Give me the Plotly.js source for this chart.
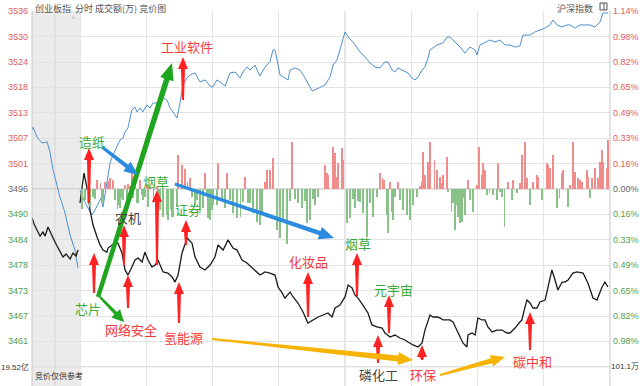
<!DOCTYPE html>
<html><head><meta charset="utf-8">
<script src="https://cdn.plot.ly/plotly-3.0.1.min.js"></script>
<style>html,body{margin:0;padding:0;background:#fff}#chart{width:640px;height:386px}</style>
</head><body><div id="chart"></div>
<script>
// ---- data (percent change vs previous close; minutes from 9:30, negative = call auction) ----
const blueAucT = [-21.7,-21.3,-19.5,-17.2,-14.9,-13.6,-12.2,-10.4,-9.1,-8.2,-6.8,-4.5,-2.3,-0.9];
const blueAucP = [0.380,0.399,0.335,0.296,0.303,0.238,0.122,0.013,-0.051,-0.090,-0.154,-0.296,-0.393,-0.509];
const blueT = [0,1.8,3.6,5.4,6.8,8.2,9.5,10.4,11.8,13.6,14.9,16.8,18.1,19.5,20.4,21.7,22.6,23.5,24.9,25.8,27.2,28.5,30.3,31.7,33.1,34.9,36.2,37.6,39.4,40.8,42.1,43.9,45.3,46.6,48.5,49.8,52.1,54.3,56.6,58.9,60.2,62.0,63.4,65.7,67.9,70.2,72.5,73.8,75.6,77.0,79.2,81.5,83.8,86.0,87.4,88.3,90.6,92.8,94.2,95.1,97.4,99.6,101.9,104.1,105.1,107.3,110.9,113.2,114.6,116.4,117.7,120.0,121.4,123.6,126.8,129.1,131.3,133.6,135.8,138.1,139.5,141.3,142.6,144.0,145.8,148.5,150.3,151.7,153.1,154.9,156.2,157.6,158.5,161.7,164.4,166.2,167.5,169.8,172.1,174.3,176.6,178.9,179.8,181.1,183.4,185.6,187.9,190.2,192.4,194.7,197.0,199.2,200.6,203.8,206.0,208.3,210.6,212.8,214.2,216.0,218.3,220.5,221.9,224.1,226.4,228.7,230.9,233.2,235.5,236.8,239.1];
const blueP = [-0.006,-0.071,-0.122,-0.167,-0.135,-0.090,-0.058,-0.116,0.006,0.167,0.219,0.270,0.315,0.328,0.367,0.393,0.463,0.509,0.528,0.496,0.521,0.496,0.541,0.521,0.554,0.554,0.560,0.586,0.573,0.521,0.496,0.457,0.554,0.669,0.715,0.734,0.747,0.689,0.702,0.663,0.657,0.702,0.689,0.663,0.747,0.753,0.715,0.753,0.785,0.766,0.798,0.727,0.785,0.818,0.895,0.895,0.734,0.715,0.702,0.766,0.779,0.766,0.715,0.657,0.631,0.644,0.669,0.721,0.798,0.830,0.895,1.011,0.978,0.946,0.882,0.850,0.811,0.785,0.779,0.818,0.818,0.766,0.753,0.779,0.766,0.747,0.715,0.702,0.721,0.766,0.785,0.843,0.895,0.927,0.940,0.978,0.978,0.946,0.914,0.875,0.914,0.895,0.863,0.927,0.946,0.959,0.946,0.959,0.927,0.927,0.914,0.921,0.991,0.991,1.011,1.023,1.036,1.056,1.088,1.056,1.043,1.056,1.056,1.036,1.056,1.056,1.056,1.043,1.075,1.133,1.133];
const blackAucT = [-21.7,-20.8,-19.5,-18.1,-16.8,-15.8,-14.5,-13.6,-12.2,-10.4,-9.1,-7.7,-6.3,-4.5,-3.2,-1.8,-0.9];
const blackAucP = [-0.187,-0.225,-0.264,-0.303,-0.277,-0.303,-0.245,-0.277,-0.315,-0.367,-0.406,-0.438,-0.418,-0.451,-0.412,-0.431,-0.393];
const blackT = [0,0.9,1.8,2.7,3.6,4.5,5.9,7.7,9.1,10.4,12.2,12.7,14.5,15.8,17.2,19.0,20.4,21.7,23.5,24.9,26.3,28.1,29.4,30.8,32.6,34.0,35.3,37.6,39.8,41.7,43.0,44.4,46.2,48.5,50.7,52.1,54.3,56.6,58.9,61.1,62.5,64.8,67.0,69.3,71.1,73.4,75.6,78.3,81.5,83.8,86.0,88.3,89.7,91.5,92.8,95.1,96.5,98.7,101.0,103.2,105.5,107.8,110.0,112.3,114.1,115.5,117.7,120.0,121.4,123.2,124.5,125.9,128.1,130.4,132.2,134.5,136.8,138.1,140.4,142.6,144.9,147.2,148.5,150.8,153.1,154.9,156.2,157.6,158.5,159.8,161.7,163.0,164.4,166.2,167.5,168.9,170.7,172.1,173.4,175.2,175.7,177.5,178.9,180.2,182.0,183.4,184.7,186.6,188.8,191.1,193.3,194.7,197.0,199.2,200.1,201.5,202.4,203.8,205.1,206.9,208.3,210.6,211.9,213.7,215.1,216.4,218.3,219.6,221.0,223.2,225.0,227.8,230.0,232.3,234.1,236.4,237.7,239.1];
const blackP = [-0.090,0.026,0.103,0.039,-0.026,-0.135,-0.232,-0.309,-0.360,-0.393,-0.406,-0.380,-0.360,-0.348,-0.348,-0.412,-0.521,-0.554,-0.502,-0.457,-0.444,-0.470,-0.406,-0.457,-0.502,-0.489,-0.457,-0.534,-0.541,-0.566,-0.599,-0.554,-0.412,-0.315,-0.348,-0.438,-0.502,-0.521,-0.489,-0.438,-0.360,-0.393,-0.328,-0.380,-0.393,-0.457,-0.476,-0.509,-0.554,-0.534,-0.541,-0.554,-0.631,-0.669,-0.702,-0.663,-0.695,-0.734,-0.792,-0.863,-0.843,-0.824,-0.811,-0.798,-0.824,-0.766,-0.747,-0.695,-0.618,-0.637,-0.682,-0.702,-0.747,-0.798,-0.875,-0.888,-0.895,-0.927,-0.953,-0.940,-0.959,-0.972,-0.985,-1.004,-1.017,-0.991,-0.908,-0.843,-0.811,-0.824,-0.824,-0.830,-0.843,-0.843,-0.843,-0.856,-0.908,-0.953,-0.991,-1.017,-0.940,-0.927,-0.940,-0.830,-0.843,-0.843,-0.888,-0.920,-0.908,-0.908,-0.927,-0.927,-0.895,-0.856,-0.843,-0.760,-0.715,-0.734,-0.766,-0.766,-0.727,-0.715,-0.631,-0.521,-0.586,-0.650,-0.599,-0.599,-0.586,-0.541,-0.534,-0.541,-0.605,-0.702,-0.715,-0.631,-0.599,-0.631];
const barT = [0.9,2.3,3.6,4.5,5.9,6.8,7.7,9.1,10.0,10.4,11.3,12.7,13.6,14.9,15.8,16.8,17.2,18.1,19.0,19.5,20.4,21.3,21.7,22.6,23.5,24.0,24.9,25.8,26.3,27.2,28.1,28.5,29.4,30.3,30.8,31.7,33.1,34.9,35.3,36.2,37.6,39.4,39.8,40.8,41.7,42.1,43.9,44.4,46.2,47.5,48.5,49.8,50.7,52.1,53.0,54.3,55.7,56.6,57.5,58.0,58.9,59.8,60.2,62.0,62.5,64.3,65.7,66.6,67.9,69.3,71.1,72.5,73.8,74.7,76.1,77.0,78.3,80.1,81.5,82.4,83.8,84.7,86.0,87.4,89.2,90.6,91.9,93.7,95.1,96.0,97.4,98.7,100.5,101.9,102.8,104.1,105.5,106.4,107.8,110.9,111.8,112.3,114.6,115.5,116.4,116.8,118.6,119.1,120.9,122.3,123.6,124.5,125.9,126.8,128.1,130.0,131.3,132.7,134.5,135.8,136.8,137.7,139.0,139.5,140.4,141.3,141.7,142.6,144.0,144.9,146.3,148.1,149.4,150.8,152.6,154.0,154.9,155.3,156.2,157.6,158.5,160.7,161.7,163.0,163.9,164.4,166.2,166.6,168.4,168.9,169.8,170.7,171.2,172.1,173.0,173.4,174.3,175.7,176.6,178.0,179.8,180.7,182.0,182.5,183.4,184.3,185.6,187.0,188.8,189.3,190.2,191.1,192.4,193.8,195.6,196.1,197.9,199.2,200.1,201.5,202.4,203.8,205.1,206.9,207.4,209.2,211.5,211.9,212.8,214.2,216.0,217.3,218.3,218.7,221.0,221.9,223.2,224.1,225.5,226.4,227.3,229.6,230.0,230.9,231.8,233.2,234.6,235.5,236.4,236.8,238.6,239.1];
const barH = [-20,-11,-14,-18,-8,-10,9,6,-13,-14,7,8,11,9,-11,-20,-16,-19,-9,-11,4,-14,5,3,16,-9,12,-14,-14,9,-6,-11,-8,4,-18,2,-14,2,-19,-21,-28,-26,-31,-21,-28,-28,-18,34,24,20,7,11,-8,-16,-11,-22,-19,16,-8,-29,-31,-21,-16,-16,26,-11,-19,16,-11,-24,-29,-28,-13,12,-14,-14,-24,-33,-36,-24,7,19,19,31,-41,-49,-31,-55,-12,47,-10,-14,-19,-12,-34,-31,-10,-16,-8,24,16,14,42,36,12,26,41,29,-34,-29,-10,-19,-12,-13,-24,-48,-14,-28,-8,16,11,9,-26,-44,7,-23,-31,-8,7,-11,-21,-26,-31,-16,-8,3,7,37,14,27,47,29,19,12,6,14,32,-3,-23,-14,-41,-16,-28,-34,-33,-9,-26,9,-11,-23,4,42,14,26,19,-6,-4,-6,-11,26,-3,-8,-38,7,-11,9,-4,6,34,47,11,-16,7,14,12,-11,26,24,21,34,-19,-9,16,19,-18,4,47,17,11,9,7,19,12,-9,11,21,11,27,39,27,21,49];
const leftLabels = ['3536','3530','3524','3518','3513','3507','3501','3496','3490','3484','3478','3473','3467','3461','19.52亿'];
const rightLabels = ['1.14%','0.98%','0.82%','0.65%','0.49%','0.33%','0.16%','0.00%','0.16%','0.33%','0.49%','0.65%','0.82%','0.98%','101.1万'];
const timeGrid = [0,30,60,90,120,150,180,210,240];
const STEP = 0.1635;

// ---- helpers for decorations (pixel -> paper) ----
const PL=32, PW=578, PB=386, PH=375;
const PX = x => (x-PL)/PW, PY = y => (PB-y)/PH;
function arrowPath(x0,y0,x1,y1,w0,w1,hw,hl){
  const dx=x1-x0, dy=y1-y0, len=Math.hypot(dx,dy);
  const ux=dx/len, uy=dy/len, nx=-uy, ny=ux;
  const bx=x1-ux*hl, by=y1-uy*hl;
  const pts=[[x0+nx*w0,y0+ny*w0],[bx+nx*w1,by+ny*w1],[bx+nx*hw,by+ny*hw],[x1,y1],[bx-nx*hw,by-ny*hw],[bx-nx*w1,by-ny*w1],[x0-nx*w0,y0-ny*w0]];
  return 'M'+pts.map(p=>PX(p[0]).toFixed(5)+','+PY(p[1]).toFixed(5)).join(' L')+' Z';
}
const RED='#ff2222', GREEN='#1fa51f', BLUE='#2a8be0', YEL='#f6b400';
const arrows = [
  ...[[183,100,57],[89,203,148],[157,265,190],[124,265,225],[186,245,220],[94,293,253],[128,308,275],[179,323,282],[308,317,272],[357,296,253],[389,333,295],[378,363,335],[422,360,345],[530,350,312]]
    .map(a=>({p:arrowPath(a[0],a[1],a[0],a[2],1,2,5,12),c:RED})),
  {p:arrowPath(98,297,172,63,2.2,2.8,7,17),c:GREEN},
  {p:arrowPath(100,297,124,322,1.2,1.8,6,12),c:GREEN},
  {p:arrowPath(102,147,138,175,1.5,2,6,14),c:BLUE},
  {p:arrowPath(175,184,334,238,1.6,2.2,6.5,15),c:BLUE},
  {p:arrowPath(212,339,413,360,1,3,6.5,15),c:YEL},
  {p:arrowPath(440,375,505,357,1,2.6,6,14),c:YEL}
];
const TR='#f43b3b', TG='#3aab3a', TD='#444';
const tags = [['工业软件',187,47,TR],['造纸',92,141,TG],['烟草',156,181,TG],['农机',128,217,TD],['证券',188,210,TG],['芯片',88,308,TG],['网络安全',131,329,TR],['氢能源',183,337,TR],['化妆品',308,261,TR],['烟草',358,244,TG],['元宇宙',393,289,TG],['磷化工',378,374,TD],['环保',423,374,TR],['碳中和',532,361,TR]];

const NUMF = 'Liberation Sans, Arial, Noto Sans CJK SC, sans-serif';
const CJK = 'Noto Sans CJK SC, sans-serif';
const gridVals = leftLabels.map((_,i)=>(7-i)*STEP);

const traces = [
  {type:'bar', x:barT, y:barH, width:0.55, yaxis:'y3', marker:{color:barH.map(v=>v>0?'#f08c8c':'#88c288'), line:{width:0}}, hoverinfo:'skip'},
  {type:'scatter', mode:'lines', x:blueAucT, y:blueAucP, line:{color:'#4f8fd2', width:1}},
  {type:'scatter', mode:'lines', x:blueT, y:blueP, line:{color:'#4f8fd2', width:1}},
  {type:'scatter', mode:'lines', x:blackAucT, y:blackAucP, line:{color:'#1a1a1a', width:1.3}},
  {type:'scatter', mode:'lines', x:blackT, y:blackP, line:{color:'#1a1a1a', width:1.3}}
];

const annotations = [];
leftLabels.forEach((t,i)=>{
  const col = i<7?'#e25c5c':(i===7?'#666':(i<14?'#4f9f4f':'#333'));
  annotations.push({xref:'paper',yref:'y',x:PX(i===14?31:30),y:gridVals[i],text:t,showarrow:false,xanchor:'right',yanchor:'middle',font:{family:NUMF,size:i===14?8:9,color:col}});
});
rightLabels.forEach((t,i)=>{
  const col = i<7?'#e25c5c':(i===7?'#666':(i<14?'#4f9f4f':'#333'));
  annotations.push({xref:'paper',yref:'y',x:PX(i===14?609:611),y:gridVals[i],text:t,showarrow:false,xanchor:'left',yanchor:'middle',font:{family:NUMF,size:i===14?8:9,color:col}});
});
tags.forEach(t=>annotations.push({xref:'paper',yref:'paper',x:PX(t[1]),y:PY(t[2]),text:t[0],showarrow:false,xanchor:'center',yanchor:'middle',font:{family:CJK,size:13,color:t[3]}}));
annotations.push({xref:'paper',yref:'paper',x:PX(33),y:PY(0),text:'创业板指&nbsp;&nbsp;分时 成交额(万) 竞价图',showarrow:false,xanchor:'left',yanchor:'top',font:{family:CJK,size:9,color:'#555'}});
annotations.push({xref:'paper',yref:'paper',x:PX(595),y:PY(0),text:'沪深指数',showarrow:false,xanchor:'right',yanchor:'top',font:{family:CJK,size:9,color:'#555'}});
annotations.push({xref:'paper',yref:'paper',x:PX(33),y:PY(375),text:'竞价仅供参考',showarrow:false,xanchor:'left',yanchor:'middle',font:{family:CJK,size:8,color:'#333'}});
annotations.push({xref:'paper',yref:'paper',x:PX(73),y:PY(17),text:'×',showarrow:false,xanchor:'center',yanchor:'middle',font:{family:NUMF,size:7,color:'#bbb'}});

const shapes = [
  {type:'rect',xref:'x',yref:'paper',x0:-21.74,x1:0,y0:0,y1:1,fillcolor:'rgba(0,0,0,0.08)',line:{width:0},layer:'below'},
  {type:'line',xref:'x',yref:'paper',x0:-11.3,x1:-11.3,y0:0,y1:1,line:{color:'#d6d6d6',width:1},layer:'below'},
  {type:'line',xref:'x',yref:'paper',x0:120,x1:120,y0:0,y1:1,line:{color:'#cfcfcf',width:1},layer:'below'},
  {type:'line',xref:'paper',yref:'y',x0:0,x1:1,y0:0,y1:0,line:{color:'#b5b5b5',width:1},layer:'below'},
  {type:'line',xref:'paper',yref:'y',x0:0,x1:1,y0:-7*STEP,y1:-7*STEP,line:{color:'#cfcfcf',width:1},layer:'below'},
  {type:'line',xref:'paper',yref:'paper',x0:0,x1:0,y0:0,y1:1,line:{color:'#c8c8c8',width:1}},
  {type:'line',xref:'paper',yref:'paper',x0:1,x1:1,y0:0,y1:1,line:{color:'#c8c8c8',width:1}},
  {type:'rect',xref:'paper',yref:'paper',x0:PX(600),x1:PX(607),y0:PY(10),y1:PY(3),line:{color:'#555',width:1},fillcolor:'rgba(0,0,0,0)'},
  {type:'line',xref:'paper',yref:'paper',x0:PX(604),x1:PX(604),y0:PY(10),y1:PY(3),line:{color:'#555',width:1}},
  ...arrows.map(a=>({type:'path',xref:'paper',yref:'paper',path:a.p,fillcolor:a.c,line:{width:0},layer:'above'}))
];

const layout = {
  width:640, height:386, margin:{l:PL,r:640-PL-PW,t:11,b:0},
  paper_bgcolor:'#fff', plot_bgcolor:'#fff', showlegend:false, bargap:0,
  xaxis:{range:[-21.74,240], tickvals:timeGrid, showticklabels:false, showgrid:true, gridcolor:'#e6e6e6', zeroline:false, showline:false, ticks:'', fixedrange:true},
  yaxis:{range:[-197/25.4*STEP, 178/25.4*STEP], tickvals:gridVals, showticklabels:false, showgrid:true, gridcolor:'#e2e2e2', zeroline:false, ticks:'', fixedrange:true},
  yaxis3:{overlaying:'y', range:[-197,178], visible:false, fixedrange:true},
  shapes:shapes, annotations:annotations
};
Plotly.newPlot('chart', traces, layout, {displayModeBar:false, staticPlot:true});
</script></body></html>
